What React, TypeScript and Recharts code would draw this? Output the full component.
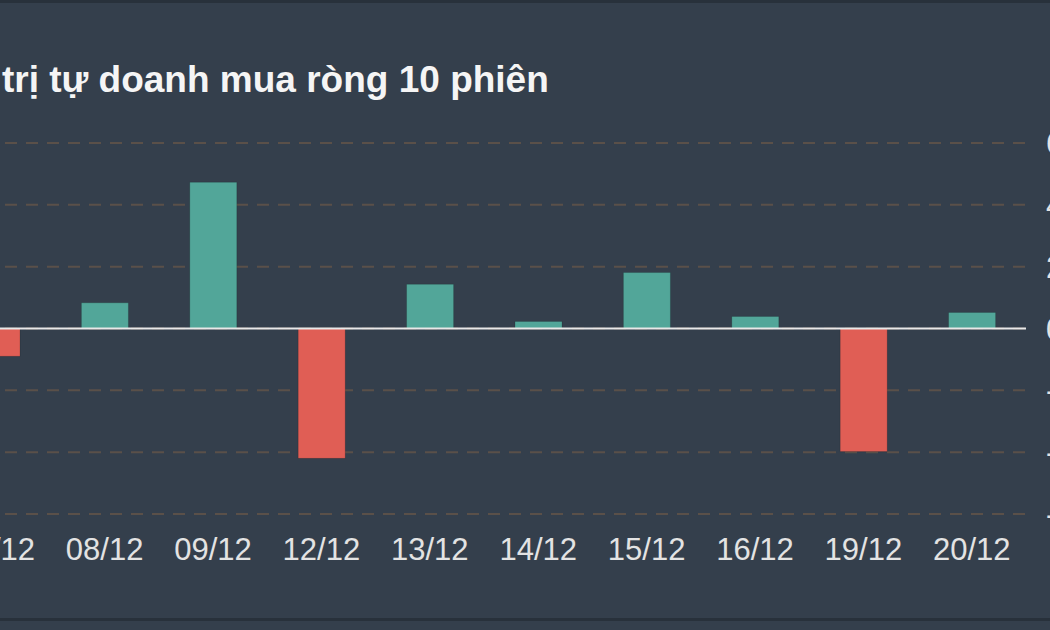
import { BarChart, Bar, Cell, XAxis, YAxis, CartesianGrid, ReferenceLine } from "recharts";

const dates = ["07/12", "08/12", "09/12", "12/12", "13/12", "14/12", "15/12", "16/12", "19/12", "20/12"];
const netBuy = [-9, 8.3, 47.3, -42, 14.3, 2.3, 18.1, 3.9, -39.8, 5.2];
const yTicks = [-60, -40, -20, 0, 20, 40, 60];

const data = dates.map((date, i) => ({ date, value: netBuy[i] }));

const BG = "#343f4c";
const UP = "#52a699";
const DOWN = "#e05e55";
const FONT = '"Liberation Sans", Arial, Helvetica, sans-serif';

export default function App() {
  return (
    <div
      style={{
        position: "fixed",
        left: 0,
        top: 0,
        width: 1050,
        height: 630,
        overflow: "hidden",
        background: BG,
        fontFamily: FONT,
      }}
    >
      <div style={{ position: "absolute", left: 0, top: 0, width: 1050, height: 3, background: "#28313b" }} />
      <div style={{ position: "absolute", left: 0, top: 618, width: 1050, height: 3, background: "#28313b" }} />
      <div
        style={{
          position: "absolute",
          left: -68,
          top: 61,
          fontSize: 37,
          lineHeight: "37px",
          fontWeight: "bold",
          color: "#f5f5f5",
          whiteSpace: "nowrap",
        }}
      >
        Giá trị tự doanh mua ròng 10 phiên
      </div>
      <div style={{ position: "absolute", left: -120, top: 0 }}>
        <BarChart width={1300} height={630} data={data} margin={{ top: 143, right: 0, bottom: 56, left: 62 }}>
          <CartesianGrid vertical={false} stroke="#5a5049" strokeWidth={2} strokeDasharray="12 9" />
          <XAxis
            dataKey="date"
            interval={0}
            axisLine={false}
            tickLine={false}
            tickMargin={18}
            height={60}
            tick={{ fill: "#e3e3e3", fontSize: 31, fontFamily: FONT }}
          />
          <YAxis
            orientation="right"
            domain={[-60, 60]}
            ticks={yTicks}
            axisLine={false}
            tickLine={false}
            tickMargin={14}
            width={154}
            tick={{ fill: "#e3e3e3", fontSize: 31, fontFamily: FONT }}
          />
          <Bar dataKey="value" barSize={47} isAnimationActive={false} stroke="rgba(0,0,0,0.15)" strokeWidth={1}>
            {data.map((d) => (
              <Cell key={d.date} fill={d.value >= 0 ? UP : DOWN} />
            ))}
          </Bar>
          <ReferenceLine y={0} stroke="#e8e8e8" strokeWidth={2} />
        </BarChart>
      </div>
    </div>
  );
}
